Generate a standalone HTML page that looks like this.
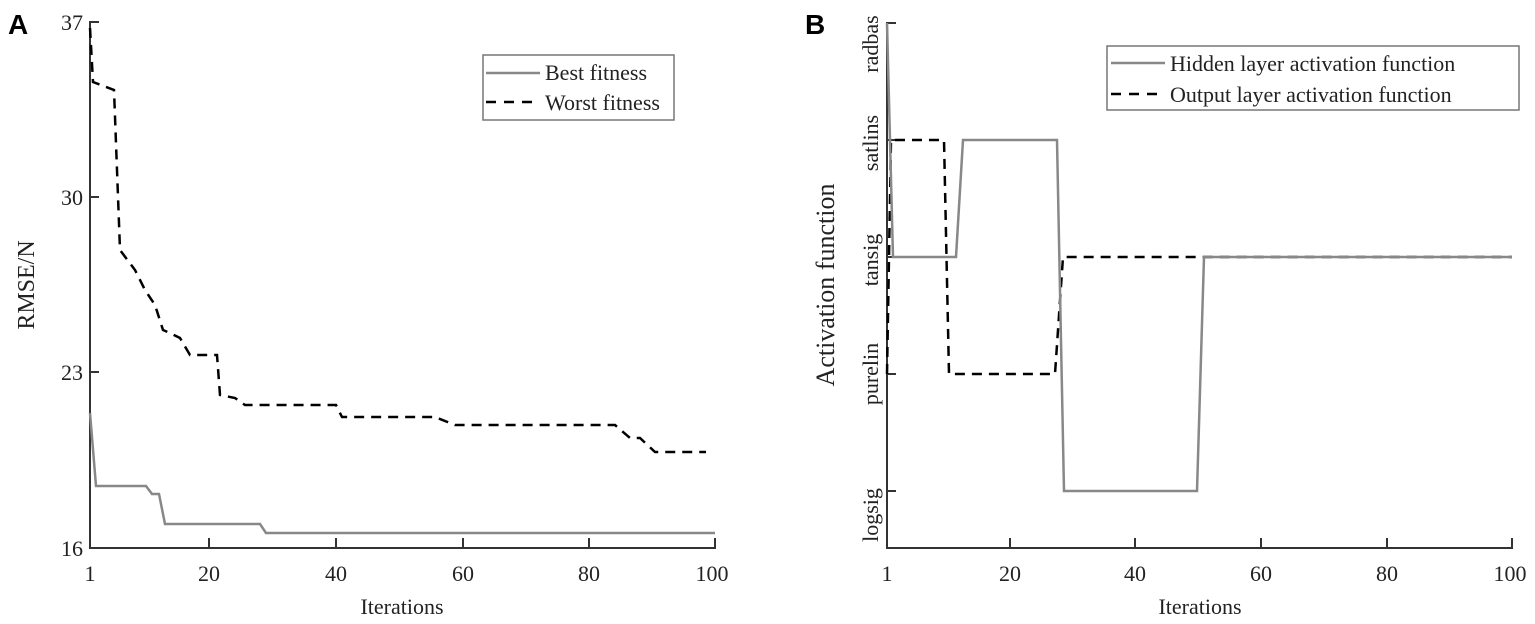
<!DOCTYPE html>
<html><head><style>
body{margin:0;background:#fff}
svg{display:block}
text{font-family:"Liberation Serif",serif;fill:#222}
</style></head><body>
<svg width="1535" height="624" xmlns="http://www.w3.org/2000/svg">
<text x="8" y="34" style="font-family:'Liberation Sans',sans-serif;font-weight:bold;font-size:28px;fill:#000">A</text>
<text x="805" y="34" style="font-family:'Liberation Sans',sans-serif;font-weight:bold;font-size:28px;fill:#000">B</text>
<!-- Panel A axes -->
<g stroke="#333" stroke-width="2" fill="none">
<path d="M99,22 H90 V548 H715 V538"/>
<path d="M90,197 H99 M90,372 H99 M209,548 V538 M336,548 V538 M463,548 V538 M589,548 V538"/>
</g>
<g font-size="22" text-anchor="end">
<text x="83" y="30">37</text><text x="83" y="205">30</text><text x="83" y="380">23</text><text x="83" y="556">16</text>
</g>
<g font-size="22" text-anchor="middle">
<text x="90" y="581">1</text><text x="209" y="581">20</text><text x="336" y="581">40</text><text x="463" y="581">60</text><text x="589" y="581">80</text><text x="712" y="581">100</text>
<text x="402" y="614">Iterations</text>
</g>
<text font-size="24" text-anchor="middle" transform="translate(34,285) rotate(-90)">RMSE/N</text>
<polyline fill="none" stroke="#000" stroke-width="2.5" stroke-dasharray="10,7" points="90,28 93,82 114,90 120,250 135,270 145,290 155,305 163,330 170,333 180,338 190,355 205,355 217,355 220,395 235,398 245,405 336,405 342,417 435,417 455,425 615,425 630,438 640,438 655,452 706,452"/>
<polyline fill="none" stroke="#888" stroke-width="2.5" points="90,413 96,486 146,486 152,494 159,494 165,524 260,524 266,533 715,533"/>
<rect x="483" y="55" width="191" height="65" fill="#fff" stroke="#777" stroke-width="1.5"/>
<line x1="486" y1="73" x2="540" y2="73" stroke="#888" stroke-width="2.5"/>
<line x1="486" y1="102" x2="540" y2="102" stroke="#000" stroke-width="2.5" stroke-dasharray="10,8"/>
<text x="545" y="80" font-size="22">Best fitness</text>
<text x="545" y="110" font-size="22">Worst fitness</text>
<!-- Panel B axes -->
<g stroke="#333" stroke-width="2" fill="none">
<path d="M896,23 H887 V548 H1512 V538"/>
<path d="M887,140 H896 M887,257 H896 M887,374 H896 M887,491 H896 M1010,548 V538 M1135,548 V538 M1261,548 V538 M1387,548 V538"/>
</g>
<g font-size="22" text-anchor="middle">
<text transform="translate(878,44) rotate(-90)">radbas</text>
<text transform="translate(878,143) rotate(-90)">satlins</text>
<text transform="translate(878,260) rotate(-90)">tansig</text>
<text transform="translate(878,374) rotate(-90)">purelin</text>
<text transform="translate(878,515) rotate(-90)">logsig</text>
<text x="887" y="581">1</text><text x="1010" y="581">20</text><text x="1135" y="581">40</text><text x="1261" y="581">60</text><text x="1387" y="581">80</text><text x="1510" y="581">100</text>
<text x="1200" y="614">Iterations</text>
</g>
<text font-size="26" text-anchor="middle" transform="translate(834,285) rotate(-90)">Activation function</text>
<polyline fill="none" stroke="#000" stroke-width="2.5" stroke-dasharray="10,7" points="887,374 891,140 944,140 949,374 1055,374 1063,257 1512,257"/>
<polyline fill="none" stroke="#888" stroke-width="2.5" points="887,23 893,257 956,257 963,140 1057,140 1064,491 1197,491 1204,257 1512,257"/>
<rect x="1107" y="46" width="412" height="64" fill="#fff" stroke="#777" stroke-width="1.5"/>
<line x1="1111" y1="63" x2="1165" y2="63" stroke="#888" stroke-width="2.5"/>
<line x1="1111" y1="94" x2="1165" y2="94" stroke="#000" stroke-width="2.5" stroke-dasharray="10,8"/>
<text x="1170" y="71" font-size="22">Hidden layer activation function</text>
<text x="1170" y="102" font-size="22">Output layer activation function</text>
</svg>
</body></html>
